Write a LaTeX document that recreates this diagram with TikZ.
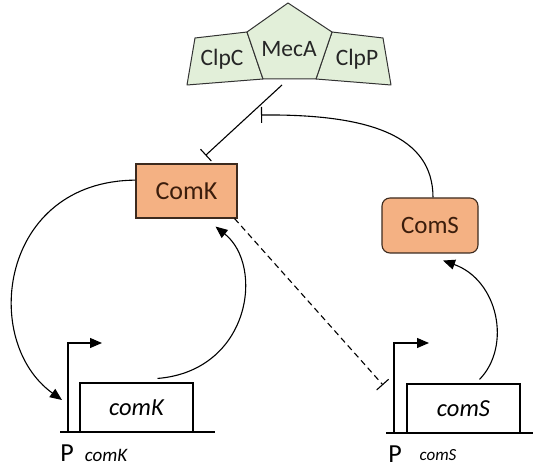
\documentclass[tikz,border=0pt]{standalone}
\usepackage{fontspec}
\setmainfont{Carlito}
\usepackage{xcolor}
\usepackage{tikz}
\usetikzlibrary{positioning,arrows.meta}
\definecolor{cplxfill}{HTML}{E2EFD9}
\definecolor{protfill}{HTML}{F4B183}
\definecolor{protline}{HTML}{3C2A1E}
\definecolor{prottext}{HTML}{3B1D0C}
\tikzset{
	cplx/.style={draw=black!80, fill=cplxfill, line width=1pt, line join=round},
	cplxlabel/.style={font=\fontsize{23.5}{28}\selectfont, text=black!85},
	prot/.style={draw=protline, fill=protfill, line width=1.1pt, minimum width=101pt, minimum height=54pt, font=\fontsize{26}{30}\selectfont, text=prottext},
	gene/.style={draw, line width=1.1pt, minimum width=113pt, minimum height=49pt, font=\fontsize{24.5}{28}\selectfont\itshape},
	dna/.style={line width=2.6pt},
	act/.style={line width=1.1pt, -{Triangle[length=12pt,width=10pt]}},
	inh/.style={line width=1.1pt, -{Bar[width=16pt]}},
	plabel/.style={font=\fontsize{26}{30}\selectfont},
	psub/.style={font=\fontsize{17}{20}\selectfont\itshape}
}

\begin{document}
\begin{tikzpicture}[x=1pt,y=1pt]
	\useasboundingbox (0,0) rectangle (533,471);
	\coordinate (mtop) at (288,468);
	\coordinate (mul) at (247,439);
	\coordinate (mur) at (332,439);
	\coordinate (mlr) at (316,392);
	\coordinate (mll) at (263,392);
	\coordinate (cctl) at (195,433);
	\coordinate (ccbl) at (187,386);
	\coordinate (cptr) at (383,433);
	\coordinate (cpbr) at (391,386);
	\draw[cplx] (cctl) -- (mul) -- (mll) -- (ccbl) -- cycle;
	\draw[cplx] (mur) -- (cptr) -- (cpbr) -- (mlr) -- cycle;
	\draw[cplx] (mtop) -- (mur) -- (mlr) -- (mll) -- (mul) -- cycle;
	\node[cplxlabel] (clpc) at (222,412) {ClpC};
	\node[cplxlabel] (meca) at (289,422) {MecA};
	\node[cplxlabel] (clpp) at (357,412) {ClpP};

	\node[prot] (comk) at (186.5,280) {ComK};
	\node[prot, rounded corners=8pt, minimum width=96pt, minimum height=55pt, font=\fontsize{25}{30}\selectfont] (coms) at (430,245.5) {ComS};

	\node[gene] (genek) at (136.5,63.5) {comK};
	\node[gene] (genes) at (463.5,62.5) {comS};
	\coordinate (dnak0) at (60,39);
	\coordinate (dnak1) at (215,39);
	\coordinate (dnas0) at (386,38);
	\coordinate (dnas1) at (533,38);
	\draw[dna] (dnak0) -- (dnak1);
	\draw[dna] (dnas0) -- (dnas1);
	\coordinate (promk) at (68,39);
	\coordinate (promktip) at (102,128);
	\coordinate (proms) at (394,38);
	\coordinate (promstip) at (429,128);
	\draw[act] (promk) |- (promktip);
	\draw[act] (proms) |- (promstip);
	\node[plabel] (pk) at (67,18) {P};
	\node[psub, font=\fontsize{19}{22}\selectfont\itshape] (pksub) at (106,16) {comK};
	\node[plabel] (ps) at (395,17) {P};
	\node[psub] (pssub) at (438,16) {comS};

	\coordinate (mecbot) at (282,386);
	\coordinate (kbar) at (261,356);
	\coordinate (sbar) at (383,86);
	\coordinate (promkin) at (62,71);
	\draw[inh] (mecbot) -- ([xshift=19pt,yshift=8pt]comk.north);
	\draw[inh] ([xshift=3pt]coms.north) .. controls (433,335) and (370,357) .. (kbar);
	\draw[act] (comk.168) .. controls (0,290) and (-20,130) .. (promkin);
	\draw[act] ([xshift=21pt,yshift=4pt]genek.north) .. controls (250,100) and (265,205) .. ([xshift=29pt,yshift=-8pt]comk.south);
	\draw[inh, dash pattern=on 6pt off 4pt] ([xshift=-3pt]comk.south east) -- (sbar);
	\draw[act] ([xshift=16pt,yshift=4pt]genes.north) .. controls (512,125) and (498,191) .. ([xshift=13pt,yshift=-7pt]coms.south);
\end{tikzpicture}
\end{document}
